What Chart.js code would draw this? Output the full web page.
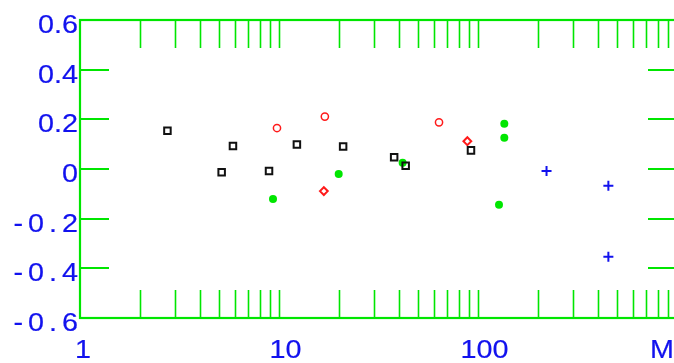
<!DOCTYPE html>
<html>
<head>
<meta charset="utf-8">
<script src="https://cdn.jsdelivr.net/npm/chart.js@4.4.1/dist/chart.umd.min.js"></script>
<style>
  html, body { margin: 0; padding: 0; background: #fff; overflow: hidden; }
  .chart-container { width: 690px; height: 363px; }
</style>
</head>
<body>
<div class="chart-container">
  <canvas id="chart" width="690" height="363"></canvas>
</div>
<script>
// data (x = log scale, y = linear)
const squaresX = [2.75, 5.87, 5.15, 12.3, 8.91, 21.0, 37.9, 43.3, 92.2];
const squaresY = [0.154, 0.093, -0.013, 0.099, -0.008, 0.091, 0.047, 0.013, 0.075];
const circlesX = [9.77, 17.0, 63.7];
const circlesY = [0.165, 0.211, 0.188];
const diamondsX = [16.8, 88.4];
const diamondsY = [-0.089, 0.112];
const dotsX = [9.33, 19.95, 41.8, 135.6, 135.6, 127.5];
const dotsY = [-0.121, -0.020, 0.025, 0.182, 0.126, -0.144];
const crossesX = [221, 452, 452];
const crossesY = [-0.008, -0.067, -0.353];

// axes
const xMinorTicks = [2, 3, 4, 5, 6, 7, 8, 9, 10, 20, 30, 40, 50, 60, 70, 80, 90, 100,
  200, 300, 400, 500, 600, 700, 800, 900];
const xLabelValues = [1, 10, 100, 1000];
const xLabels = ['1', '10', '100', 'M'];
const yTickValues = [-0.6, -0.4, -0.2, 0, 0.2, 0.4, 0.6];
const yLabels = ['-0.6', '-0.4', '-0.2', '0', '0.2', '0.4', '0.6'];

const GREEN = '#00e600';
const BLUE = '#1212ee';

const pts = (xs, ys) => xs.map((x, i) => ({ x: x, y: ys[i] }));

// draws a label with a stretched font, characters placed one by one
function drawText(ctx, text, x, y, align, spacing) {
  const sx = 1.15;
  ctx.save();
  ctx.font = '25px "Liberation Sans", Arial, sans-serif';
  ctx.textAlign = 'left';
  ctx.textBaseline = 'alphabetic';
  ctx.strokeStyle = ctx.fillStyle;
  ctx.lineWidth = 0.2;
  const chars = text.split('');
  const widths = chars.map(c => ctx.measureText(c).width * sx);
  const total = widths.reduce((a, b) => a + b, 0) + spacing * (chars.length - 1);
  let cx = x;
  if (align === 'right') cx = x - total;
  if (align === 'center') cx = x - total / 2;
  chars.forEach((c, i) => {
    ctx.save();
    ctx.translate(cx, y);
    ctx.scale(sx, 1);
    ctx.fillText(c, 0, 0);
    ctx.strokeText(c, 0, 0);
    ctx.restore();
    cx += widths[i] + spacing;
  });
  ctx.restore();
}

const framePlugin = {
  id: 'frame',
  beforeDatasetsDraw(chart) {
    const { ctx, chartArea: a, scales: { x, y } } = chart;
    ctx.save();
    ctx.strokeStyle = GREEN;
    ctx.lineWidth = 1.6;
    ctx.beginPath();
    xMinorTicks.forEach(v => {
      const px = Math.round(x.getPixelForValue(v)) + 0.5;
      ctx.moveTo(px, a.top); ctx.lineTo(px, a.top + 28);
      ctx.moveTo(px, a.bottom); ctx.lineTo(px, a.bottom - 28);
    });
    ctx.stroke();
    ctx.lineWidth = 2;
    ctx.beginPath();
    yTickValues.slice(1, -1).forEach(v => {
      const py = Math.round(y.getPixelForValue(v));
      ctx.moveTo(a.left, py); ctx.lineTo(a.left + 29, py);
      ctx.moveTo(a.right, py); ctx.lineTo(a.right - 29, py);
    });
    ctx.stroke();
    ctx.lineWidth = 2.2;
    ctx.strokeRect(a.left, a.top, a.right - a.left, a.bottom - a.top);
    ctx.restore();
  },
  afterDraw(chart) {
    const { ctx, scales: { x, y } } = chart;
    ctx.save();
    ctx.fillStyle = BLUE;
    yTickValues.forEach((v, i) => {
      const py = y.getPixelForValue(v);
      const neg = yLabels[i].startsWith('-');
      drawText(ctx, yLabels[i], 78, py + 13, 'right', neg ? 5 : 0);
    });
    xLabelValues.forEach((v, i) => {
      const px = x.getPixelForValue(v);
      if (xLabels[i] === 'M') {
        drawText(ctx, xLabels[i], 674, 358, 'right', 0);
      } else if (i === 0) {
        drawText(ctx, xLabels[i], px + 3, 358, 'center', 0);
      } else {
        drawText(ctx, xLabels[i], px + 6.4, 358, 'center', 0);
      }
    });
    ctx.restore();
  }
};

new Chart(document.getElementById('chart'), {
  type: 'scatter',
  data: {
    datasets: [
      {
        data: pts(squaresX, squaresY),
        pointStyle: 'rect', pointRadius: 4.6,
        borderColor: '#111', borderWidth: 2, backgroundColor: 'rgba(0,0,0,0)'
      },
      {
        data: pts(circlesX, circlesY),
        pointStyle: 'circle', pointRadius: 3.6,
        borderColor: '#ff1a1a', borderWidth: 1.5, backgroundColor: 'rgba(0,0,0,0)'
      },
      {
        data: pts(diamondsX, diamondsY),
        pointStyle: 'rectRot', pointRadius: 3.9,
        borderColor: '#ff1a1a', borderWidth: 2, backgroundColor: 'rgba(0,0,0,0)'
      },
      {
        data: pts(dotsX, dotsY),
        pointStyle: 'circle', pointRadius: 4,
        borderColor: '#00e600', borderWidth: 0, backgroundColor: '#00e600'
      },
      {
        data: pts(crossesX, crossesY),
        pointStyle: 'cross', pointRadius: 5,
        borderColor: BLUE, borderWidth: 2, backgroundColor: BLUE
      }
    ]
  },
  options: {
    responsive: false,
    animation: false,
    events: [],
    layout: { padding: { left: 80, top: 20, right: 13, bottom: 45 } },
    plugins: { legend: { display: false }, tooltip: { enabled: false } },
    scales: {
      x: { type: 'logarithmic', min: 1, max: 1000, display: false },
      y: { type: 'linear', min: -0.6, max: 0.6, display: false }
    }
  },
  plugins: [framePlugin]
});
</script>
</body>
</html>
